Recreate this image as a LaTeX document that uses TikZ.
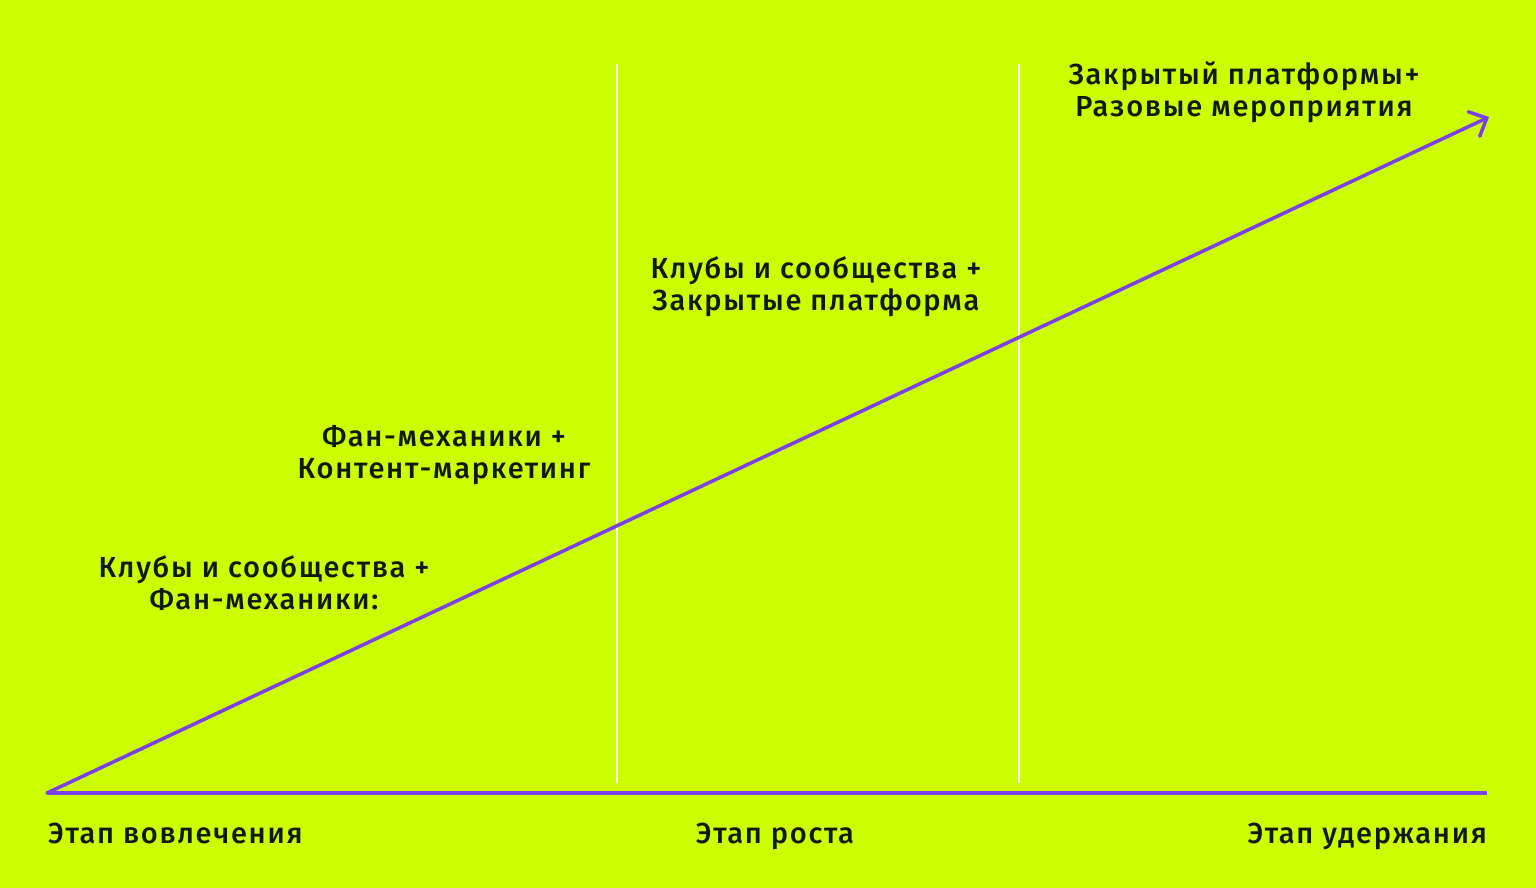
\documentclass[tikz,border=0pt]{standalone}
\usepackage{fontspec}
\setmainfont{Fira Sans}[UprightFont=* Medium, LetterSpace=6]
\usetikzlibrary{arrows.meta}
\definecolor{bg}{HTML}{CCFF00}
\definecolor{violet}{HTML}{7D3FEA}
\definecolor{ink}{HTML}{0F1A08}
\tikzset{
  lbl/.style={text=ink, font=\fontsize{29}{32}\selectfont, inner sep=0pt, align=center},
  axis/.style={draw=violet, line width=3.5pt},
  divider/.style={draw=white, line width=2pt},
}
\begin{document}
\begin{tikzpicture}[x=1pt,y=-1pt]
\fill[bg] (0,0) rectangle (1536,888);
\useasboundingbox (0,0) rectangle (1536,888);
\coordinate (o) at (47,793);
\coordinate (xend) at (1487,793);
\coordinate (tip) at (1489,117);
\coordinate (d1t) at (617,64);
\coordinate (d1b) at (617,783);
\coordinate (d2t) at (1019,64);
\coordinate (d2b) at (1019,783);
\draw[divider] (d1t) -- (d1b);
\draw[divider] (d2t) -- (d2b);
\draw[axis] (o) -- (xend);
\draw[axis, line cap=round, -{Straight Barb[length=14pt,width=27pt,line cap=round]}] (o) -- (tip);
\node[lbl] (t1) at (1244,92) {Закрытый платформы+\\Разовые мероприятия};
\node[lbl] (t2) at (816,287) {Клубы и сообщества +\\Закрытые платформа};
\node[lbl] (t3) at (444,455) {Фан-механики +\\Контент-маркетинг};
\node[lbl] (t4) at (264,583) {Клубы и сообщества +\\Фан-механики:};
\node[lbl, anchor=base west] (s1) at (48,843) {Этап вовлечения};
\node[lbl, anchor=base] (s2) at (775,843) {Этап роста};
\node[lbl, anchor=base east] (s3) at (1487,843) {Этап удержания};
\end{tikzpicture}
\end{document}
